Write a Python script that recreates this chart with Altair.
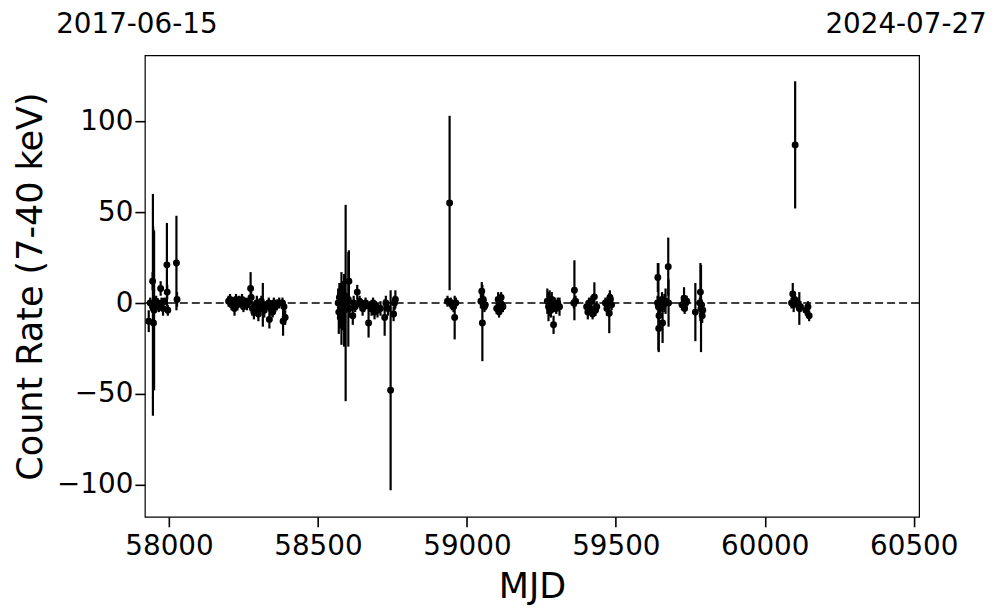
import altair as alt
import pandas as pd

# ---- data (MJD, count rate, 1-sigma error) ----
mjd = [
    # 2017-2018 start
    57932, 57937, 57946, 57947, 57950, 57945, 57948, 57952, 57957, 57960, 57966, 57972,
    57975, 57980, 57985, 57993, 57994, 57996, 58025, 58027,
    # 2018
    58200, 58205, 58210, 58215, 58220, 58225, 58230, 58235, 58240, 58245, 58250, 58258,
    58262, 58268, 58274, 58276, 58280, 58285, 58290, 58295, 58300, 58305, 58310, 58315,
    58320, 58325, 58337, 58335, 58342, 58348, 58352, 58357, 58362, 58370, 58381, 58383,
    58386, 58390,
    # 2019
    58568, 58570, 58572, 58575, 58577, 58579, 58581, 58583, 58585, 58588, 58590, 58593,
    58604, 58602, 58606, 58617, 58620, 58625, 58632, 58640, 58645, 58650, 58655, 58660,
    58670, 58675, 58680, 58685, 58690, 58695, 58700, 58710, 58724, 58728, 58735, 58744,
    58754, 58757, 58760,
    # 2020
    58935, 58942, 58946, 58950, 58955, 58959, 58963,
    59047, 59050, 59052, 59055, 59059, 59062,
    59100, 59105, 59108, 59112, 59115, 59118, 59121,
    # 2021
    59270, 59274, 59278, 59282, 59285, 59291, 59295, 59300, 59305, 59311,
    59359, 59361, 59365,
    59402, 59406, 59410, 59414, 59418, 59422, 59428, 59432, 59436,
    59465, 59470, 59475, 59478, 59480, 59482, 59486,
    # 2022
    59640, 59641, 59643, 59644, 59645, 59649, 59655, 59657, 59660, 59663, 59667,
    59676, 59677,
    59722, 59729, 59731, 59735, 59738,
    59767, 59782, 59784, 59786, 59788, 59790, 59792,
    # 2023
    60090, 60094, 60097, 60100, 60102, 60110, 60116, 60120, 60138, 60145, 60149,
]
rate = [
    -10, 0, -1, -3, -4, 12, -11, -2, 1, -1, -2, 8,
    0, -3, 1, 21, 6, -4, 22, 2,
    1, 2, -1, 0, -3, 2, -1, 1, 0, 2, -2, 0,
    -1, 1, 8, 3, -3, -5, -2, 0, -6, -3, 1, -1,
    -4, -2, -9, 0, -3, -5, 0, -2, -1, 0, 0, -10,
    -2, -8,
    0, -5, 3, -8, 5, -3, 2, -10, 0, -4, 4, 0,
    12, 2, -3, -7, 0, -2, 6, 1, -1, -3, -2, 0,
    -11, -2, -3, 0, -5, -2, -4, -3, -8, 0, -3, -48,
    -6, 0, 2,
    1, 55, 0, -1, -2, -8, 0,
    1, 6.5, -11, 2, -2, -1,
    -3, 2, -5, 0, 3, -1, -2,
    1, -2, 0, -4, 2, -12, -1, -3, 0, -2,
    0, 7, 1,
    -2, -5, 0, -3, 1, -6, 3.4, -4, -2,
    0, -3, 1, -5.6, 3, 2, -1,
    0, 14, -2, -14, -7, -3, 2, -11, -1, 0, 1,
    20, 0,
    -1, 2.7, -3, 0, 1,
    -5, 0, 6, -3, -1, -7, -4,
    0, 5, -1, 2, 87, 0, -3, -2, -4, -2, -7,
]
err = [
    6, 3, 61, 45, 44, 5, 5, 3, 3, 3, 3, 4,
    3, 4, 2, 23, 4, 3, 26, 4,
    3, 3, 3, 2, 4, 3, 3, 3, 2, 3, 3, 3,
    3, 3, 9, 3, 4, 4, 3, 4, 4, 4, 3, 12,
    4, 3, 5, 3, 4, 3, 3, 3, 3, 3, 3, 8,
    3, 4,
    8, 12, 8, 6, 6, 20, 10, 5, 6, 20, 8, 54,
    17, 26, 5, 5, 4, 3, 4, 3, 3, 4, 3, 3,
    8, 3, 4, 3, 4, 3, 4, 4, 10, 4, 4, 55,
    4, 4, 5,
    3, 48, 3, 3, 3, 12, 3,
    4, 5, 21, 3, 3, 3,
    3, 4, 3, 3, 3, 3, 3,
    7, 8, 7, 4, 4, 5, 4, 3, 3, 5,
    3, 16.5, 3,
    3, 4, 3, 3, 3, 3, 8, 3, 3,
    3, 4, 3, 11, 4, 3, 3,
    4, 8, 24, 13, 5, 4, 4, 11, 3, 5, 7,
    16, 13,
    3, 6, 3, 4, 3,
    16, 3, 16, 24, 3, 4, 3,
    3, 6, 4, 3, 35, 3, 9, 3, 3, 3, 3,
]

x_ticks = [58000, 58500, 59000, 59500, 60000, 60500]
y_ticks = [-100, -50, 0, 50, 100]
start_label = "2017-06-15"
end_label = "2024-07-27"

df = pd.DataFrame({"mjd": mjd, "rate": rate, "err": err})

FONT = "DejaVu Sans"
xscale = alt.Scale(domain=[57919, 60518], nice=False, zero=False)
yscale = alt.Scale(domain=[-117.6, 136.3], nice=False, zero=False)

xaxis = alt.Axis(values=x_ticks, title="MJD", format="d", grid=False, domain=False,
                 tickSize=10, tickWidth=1.6, tickColor="black", labelPadding=6,
                 labelFontSize=27.8, titleFontSize=35, titleFontWeight="normal",
                 labelColor="black", titleColor="black", titlePadding=9,
                 labelFlush=False)
yaxis = alt.Axis(values=y_ticks, title="Count Rate (7-40 keV)", grid=False, domain=False,
                 tickSize=10, tickWidth=1.6, tickColor="black", labelPadding=2,
                 labelFontSize=27.8, titleFontSize=35, titleFontWeight="normal",
                 labelColor="black", titleColor="black", titlePadding=8)

base = alt.Chart(df)

bars = base.transform_calculate(
    lo="datum.rate - datum.err", hi="datum.rate + datum.err"
).mark_rule(color="black", strokeWidth=2.2).encode(
    x=alt.X("mjd:Q", scale=xscale, axis=xaxis),
    y=alt.Y("lo:Q", scale=yscale, axis=yaxis),
    y2="hi:Q",
)

points = base.mark_circle(color="black", size=48, opacity=1).encode(
    x=alt.X("mjd:Q", scale=xscale),
    y=alt.Y("rate:Q", scale=yscale),
)

zero = alt.Chart(pd.DataFrame({"z": [0]})).mark_rule(
    color="black", strokeDash=[8, 4], strokeWidth=1.5
).encode(y=alt.Y("z:Q", scale=yscale))

t_left = alt.Chart(pd.DataFrame({"t": [start_label]})).mark_text(
    font=FONT, fontSize=27.8, color="black", align="center", baseline="alphabetic"
).encode(x=alt.value(-8), y=alt.value(-22), text="t:N")

t_right = alt.Chart(pd.DataFrame({"t": [end_label]})).mark_text(
    font=FONT, fontSize=27.8, color="black", align="center", baseline="alphabetic"
).encode(x=alt.value(762), y=alt.value(-22), text="t:N")

chart = alt.layer(zero, bars, points, t_left, t_right).properties(
    width=775, height=462,
    autosize=alt.AutoSizeParams(type="none"),
    padding={"left": 137, "top": 47, "right": 70, "bottom": 96},
).configure(font=FONT).configure_view(stroke="black", strokeWidth=1.2)

chart.save("out.html", embed_options={"renderer": "svg", "actions": False})
